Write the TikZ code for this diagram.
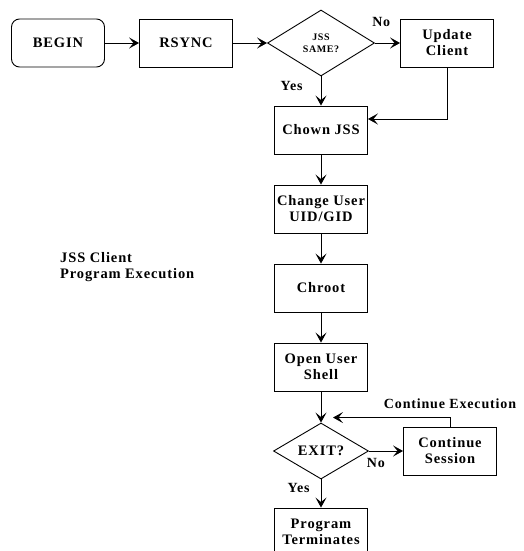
\documentclass[tikz,border=0pt]{standalone}
\usepackage{fontspec}
\setmainfont{Liberation Serif}[LetterSpace=6]
\usepackage{tikz}
\usetikzlibrary{shapes.geometric, arrows.meta, positioning, calc}

\begin{document}
\begin{tikzpicture}[font=\fontsize{14.5}{16}\selectfont\bfseries, node distance=128pt]
    \tikzstyle{stepbox} = [rectangle, minimum width=93pt, minimum height=48pt, inner sep=1pt,
      align=center, draw=black, line width=0.9pt]
    \tikzstyle{decision} = [diamond, inner sep=0pt, align=center, draw=black, line width=0.9pt]
    \tikzstyle{flow} = [-{Stealth[length=10pt, width=11pt, inset=4.5pt]}, line width=0.9pt]
    \tikzstyle{tag} = [font=\fontsize{14}{16}\selectfont\bfseries, inner sep=1pt]

    \useasboundingbox (-58pt,43pt) rectangle (465pt,-508pt);

    \node (begin)  [stepbox, rounded corners=8pt] {BEGIN};
    \node (rsync)  [stepbox, right of=begin] {RSYNC};
    \node (same)   [decision, right of=rsync, node distance=135pt, minimum width=107pt, minimum height=66pt,
                    font=\fontsize{10}{12}\selectfont\bfseries] {JSS\\SAME?};
    \node (update) [stepbox, right of=same, node distance=126pt] {Update\\Client};
    \node (chown)  [stepbox, below of=same, node distance=87pt] {Chown JSS};
    \node (change) [stepbox, below of=chown, node distance=79pt] {Change User\\UID/GID};
    \node (chroot) [stepbox, below of=change, node distance=79pt] {Chroot};
    \node (shell)  [stepbox, below of=chroot, node distance=79pt] {Open User\\Shell};
    \node (exit)   [decision, below of=shell, node distance=84pt, minimum width=95pt, minimum height=56pt] {EXIT?};
    \node (cont)   [stepbox, right of=exit, node distance=129pt] {Continue\\Session};
    \node (term)   [stepbox, below of=exit, node distance=81pt] {Program\\Terminates};
    \node (title)  [align=left, anchor=north west, inner sep=0pt] at (2pt,-209pt) {JSS Client\\Program Execution};

    \coordinate (back) at ($(exit.north)+(12pt,5pt)$);

    \draw [flow] (begin) -- (rsync);
    \draw [flow] (rsync) -- (same);
    \draw [flow] (same) -- (update)
      node[tag, pos=0.25, above=15pt] {No};
    \draw [flow] (same) -- (chown)
      node[tag, pos=0.33, left=17pt] {Yes};
    \draw [flow] (update.south) |- ([yshift=11pt]chown.east);
    \draw [flow] (chown) -- (change);
    \draw [flow] (change) -- (chroot);
    \draw [flow] (chroot) -- (shell);
    \draw [flow] (shell) -- (exit);
    \draw [flow] (exit) -- (cont)
      node[tag, pos=0.2, below=6pt] {No};
    \draw [flow] (exit) -- (term)
      node[tag, pos=0.3, left=10pt] {Yes};
    \draw [flow] (cont.north) |- (back)
      node[tag, pos=0.5, above=7pt] {Continue Execution};
\end{tikzpicture}
\end{document}
